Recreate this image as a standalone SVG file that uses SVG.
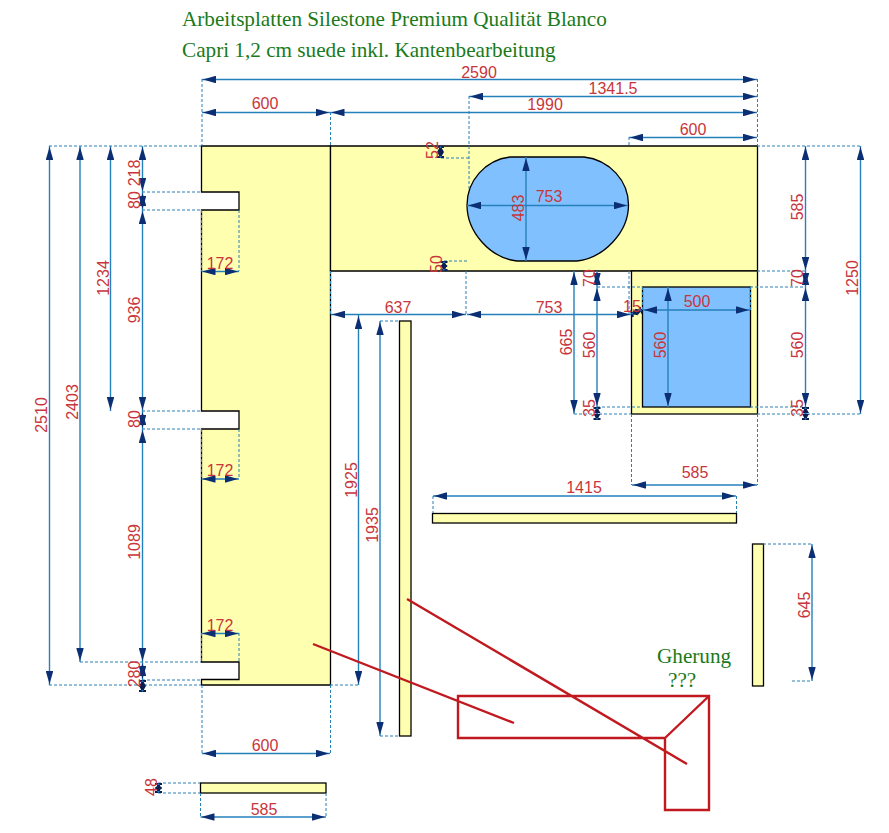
<svg xmlns="http://www.w3.org/2000/svg" width="889" height="833" viewBox="0 0 889 833">
<style>
.p{fill:#ffffb0;stroke:#000;stroke-width:1.3}
.c{fill:#80c0ff;stroke:#000;stroke-width:1.3}
.d{fill:none;stroke:#2480bb;stroke-width:1.4;marker-start:url(#a);marker-end:url(#a)}
.s{fill:none;stroke:#1f7ad0;stroke-width:2.6;marker-start:url(#b);marker-end:url(#b)}
.x{fill:none;stroke:#2a7fb5;stroke-width:1;stroke-dasharray:3 2}
.r{fill:none;stroke:#c01a20;stroke-width:2.4}
text{font-family:"Liberation Sans",Arial,sans-serif;font-size:16px;fill:#c8363c;text-anchor:middle}
.g{font-family:"Liberation Serif","Times New Roman",serif;fill:#1a7a1a;text-anchor:start;font-size:21.2px}
</style>
<defs>
<marker id="a" markerUnits="userSpaceOnUse" markerWidth="14" markerHeight="8" viewBox="0 0 14 8" refX="15" refY="4" orient="auto-start-reverse"><path d="M14 4L2 .5L1 .5V7.500L2 7.500Z" fill="#0c2f74"/></marker>
<marker id="b" markerUnits="userSpaceOnUse" markerWidth="6" markerHeight="8" viewBox="0 0 6 8" refX="6" refY="4" orient="auto-start-reverse"><path d="M6 4L0 .5V7.500Z M4 .5H6V7.500H4Z" fill="#0a1f50"/></marker>
</defs>
<g id="title">
<text class="g" x="182" y="26">Arbeitsplatten Silestone Premium Qualität Blanco</text>
<text class="g" x="182" y="57">Capri 1,2 cm suede inkl. Kantenbearbeitung</text>
</g>
<g id="main-slab"><path class="p" d="M201.500 146H330.500V685H201.500V679.500H239V662H201.500V429H239V411H201.500V210H239V192H201.500Z"/></g>
<g id="top-slab"><path class="p" d="M330.500 146H757.500V271H330.500Z"/>
<path class="c" d="M510 157H584C610 160 628.500 181 628.500 205C628.500 232 604 258 577 261H517C490 258 467 232 467 205C467 181 485 160 510 157Z"/></g>
<g id="lower-slab"><rect class="p" x="631.500" y="271" width="126" height="143"/><rect class="c" x="642.500" y="287" width="108" height="120"/></g>
<g id="strip-1"><rect class="p" x="399.500" y="321" width="11.500" height="415"/></g>
<g id="strip-2"><rect class="p" x="432.500" y="513.500" width="304" height="9.500"/></g>
<g id="strip-3"><rect class="p" x="752.500" y="544" width="11" height="142"/></g>
<g id="strip-4"><rect class="p" x="200.500" y="783" width="125.500" height="10"/></g>
<g id="connectors">
<path class="x" d="M202 79V146M330.500 112V146M469 96V190M757.500 79V146M629 137V146M49 146H201M757 146H860M142 192H201M142 210H201M142 411H201M142 429H201M80 662H201M142 680H201M49 685H201M330 685H359M239 210V271M201.500 210V271M239 429V479M201.500 429V479M239 633V662M201.500 633V662M202 685V753M330.500 685V753M441 158H469M444 261H467M757 271H805M597 287H642M750 287H805M597 407H642M750 407H805M574 414H631M757 414H860M466 271V314M330.500 271V314M629 271V314M642.500 287V310M750.500 287V310M631.500 414V485M757.500 414V485M200.500 793V817M326 793V817M158 783H200M158 793H200M380 321H399M380 736H399M433 496V513M736.500 496V513M763 544H812M792 681H812"/>
<path class="d" d="M202 79.500H757"/><path class="d" d="M469 96.500H757"/><path class="d" d="M330.500 112.500H757"/><path class="d" d="M202 112.500H330"/><path class="d" d="M629 137.500H757"/>
<path class="d" d="M467 205.500H628"/><path class="d" d="M331 314.500H466"/><path class="d" d="M467 314.500H631"/><path class="d" d="M643 310H750"/><path class="s" d="M631 314L642 310"/>
<path class="d" d="M632 485H757"/><path class="d" d="M201.500 271.500H239"/><path class="d" d="M201.500 479H239"/><path class="d" d="M201.500 633.500H239"/><path class="d" d="M202 753.500H330"/><path class="d" d="M200.500 817H326"/><path class="d" d="M433 496H736"/>
<path class="d" d="M49.500 146V685"/><path class="d" d="M80 146V662"/><path class="d" d="M110.500 146V411"/>
<path class="d" d="M142.500 146V192"/><path class="d" d="M142.500 192V210"/><path class="d" d="M142.500 210V411"/><path class="d" d="M142.500 411V429"/><path class="d" d="M142.500 429V662"/><path class="d" d="M142.500 662V680"/><path class="s" d="M142.500 680V692"/>
<path class="s" d="M440.500 146V158"/><path class="s" d="M444 261V271"/>
<path class="d" d="M526 157V261"/><path class="d" d="M574 271V414"/>
<path class="d" d="M597 271V287"/><path class="d" d="M597 287V407"/><path class="s" d="M597 407V420"/>
<path class="d" d="M668 287V407"/>
<path class="d" d="M805.500 146V271"/><path class="d" d="M805.500 271V287"/><path class="d" d="M805.500 287V407"/><path class="s" d="M805.500 407V420"/>
<path class="d" d="M860.500 146V414"/><path class="d" d="M358.500 315V685"/><path class="d" d="M380 321V736"/><path class="d" d="M812 544V681"/>
<path class="s" d="M158.500 783V793"/>
</g>
<g id="dimension-labels">
<text x="479" y="78">2590</text><text x="613" y="94">1341.5</text><text x="545" y="110">1990</text><text x="265" y="109">600</text><text x="693" y="135">600</text>
<text x="549" y="202">753</text><text x="398" y="313">637</text><text x="549" y="313">753</text><text x="632" y="312">15</text><text x="697" y="307">500</text><text x="695" y="478">585</text>
<text x="220" y="269">172</text><text x="220" y="476">172</text><text x="220" y="631">172</text><text x="265" y="751">600</text><text x="264" y="815">585</text><text x="584" y="493">1415</text>
<text transform="translate(47,415) rotate(-90)">2510</text><text transform="translate(78,402) rotate(-90)">2403</text><text transform="translate(109,278) rotate(-90)">1234</text>
<text transform="translate(140,173) rotate(-90)">218</text><text transform="translate(140,200) rotate(-90)">80</text><text transform="translate(140,310) rotate(-90)">936</text><text transform="translate(140,419) rotate(-90)">80</text><text transform="translate(140,542) rotate(-90)">1089</text><text transform="translate(140,674) rotate(-90)">280</text>
<text transform="translate(438,150) rotate(-90)">52</text><text transform="translate(442,264) rotate(-90)">50</text><text transform="translate(524,208) rotate(-90)">483</text><text transform="translate(572,342) rotate(-90)">665</text>
<text transform="translate(595,278) rotate(-90)">70</text><text transform="translate(595,345) rotate(-90)">560</text><text transform="translate(595,408) rotate(-90)">35</text><text transform="translate(666,345) rotate(-90)">560</text>
<text transform="translate(803,207) rotate(-90)">585</text><text transform="translate(803,278) rotate(-90)">70</text><text transform="translate(803,345) rotate(-90)">560</text><text transform="translate(803,408) rotate(-90)">35</text>
<text transform="translate(858,278) rotate(-90)">1250</text><text transform="translate(357,480) rotate(-90)">1925</text><text transform="translate(378,525) rotate(-90)">1935</text><text transform="translate(810,605) rotate(-90)">645</text><text transform="translate(157,787) rotate(-90)">48</text>
</g>
<g id="mitre-sketch">
<path class="r" d="M458 696H709V810H665V738H458ZM665 738L709 696M313 644L514 723M407 599L687 764"/>
<text class="g" x="657" y="663">Gherung</text><text class="g" x="668" y="687">???</text>
</g>
</svg>
